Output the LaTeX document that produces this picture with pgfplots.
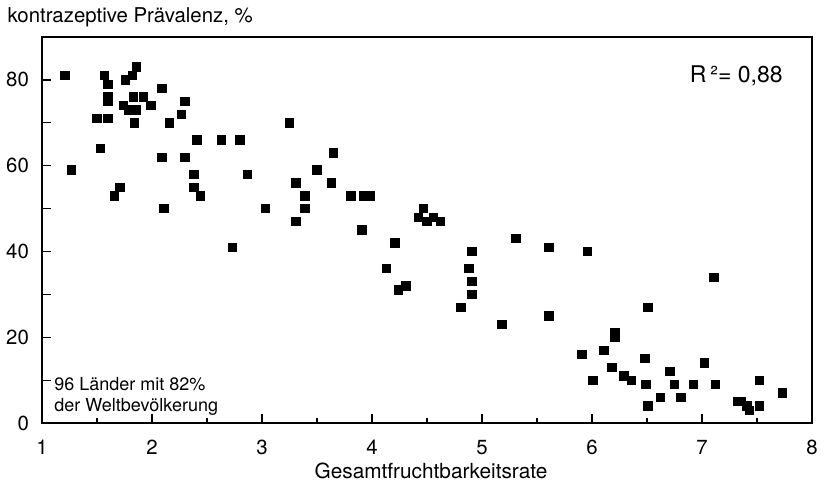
\documentclass[border=0pt]{standalone}
\usepackage{fontspec}
\setmainfont{TeX Gyre Heros}
\usepackage{pgfplots}
\pgfplotsset{compat=1.18}
\begin{document}
\begin{tikzpicture}
\path[use as bounding box] (0,0) rectangle (412pt,242pt);
\begin{axis}[
  at={(21pt,30.5pt)}, anchor=south west,
  scale only axis, width=385pt, height=193pt,
  xmin=1, xmax=8, ymin=0, ymax=90,
  xtick={1,...,8}, minor xtick={1.5,2.5,...,7.5},
  ytick={0,10,...,80}, yticklabels={0,,20,,40,,60,,80},
  tick align=inside, xtick pos=bottom, ytick pos=left,
  major tick length=4.5pt, minor tick length=2.5pt,
  axis line style={line width=1.2pt},
  every tick/.style={black, line width=0.6pt},
  tick label style={font=\fontsize{10.2}{12}\selectfont},
  xticklabel style={yshift=-5pt},
  yticklabel style={xshift=-3pt},
  /pgf/number format/assume math mode=true,
  clip=false,
]
\addplot[only marks, mark=square*, mark size=2.1pt, black] coordinates {
(1.21,81) (1.57,81) (1.60,79) (1.60,76) (1.60,75) (1.86,83) (1.82,81) (1.76,80)
(2.09,78) (1.83,76) (1.92,76) (1.99,74) (1.74,74) (1.79,73) (1.86,73) (2.30,75)
(2.27,72) (1.50,71) (1.60,71) (1.84,70) (2.16,70) (3.25,70) (2.41,66) (2.63,66)
(2.80,66) (1.53,64) (2.09,62) (2.30,62) (1.27,59) (2.38,58) (2.87,58) (3.50,59)
(3.31,56) (2.38,55) (2.44,53) (1.71,55) (1.66,53) (3.39,53) (3.39,50) (2.11,50)
(3.03,50) (3.31,47) (2.73,41) (3.65,63) (3.63,56) (3.81,53) (3.92,53) (3.98,53)
(3.91,45) (4.47,50) (4.42,48) (4.50,47) (4.56,48) (4.62,47) (4.21,42) (4.13,36)
(4.24,31) (4.31,32) (4.81,27) (4.91,40) (4.88,36) (4.91,33) (4.91,30) (5.31,43)
(5.61,41) (5.96,40) (5.61,25) (5.18,23) (6.51,27) (6.21,21) (6.21,20) (6.11,17)
(5.91,16) (6.48,15) (7.11,34) (6.01,10) (6.18,13) (6.29,11) (6.36,10) (6.49,9)
(6.51,4) (6.62,6) (6.71,12) (6.75,9) (6.81,6) (6.92,9) (7.02,14) (7.12,9)
(7.32,5) (7.36,5) (7.41,4) (7.43,3) (7.52,10) (7.52,4) (7.73,7)
};
\end{axis}
\node[anchor=base west, inner sep=0pt, font=\fontsize{10.2}{12}\selectfont] at (3.6pt,230.6pt) {kontrazeptive Prävalenz, \%};
\node[anchor=base, inner sep=0pt, font=\fontsize{10.4}{12}\selectfont] at (215.5pt,2.6pt) {Gesamtfruchtbarkeitsrate};
\node[anchor=base east, inner sep=0pt, font=\fontsize{11.5}{13}\selectfont] at (391.5pt,200.9pt) {R\,²= 0,88};
\node[anchor=base west, inner sep=0pt, font=\fontsize{9}{11}\selectfont] at (27pt,47pt) {96 Länder mit 82\%};
\node[anchor=base west, inner sep=0pt, font=\fontsize{9}{11}\selectfont] at (27pt,36.3pt) {der Weltbevölkerung};
\end{tikzpicture}
\end{document}
